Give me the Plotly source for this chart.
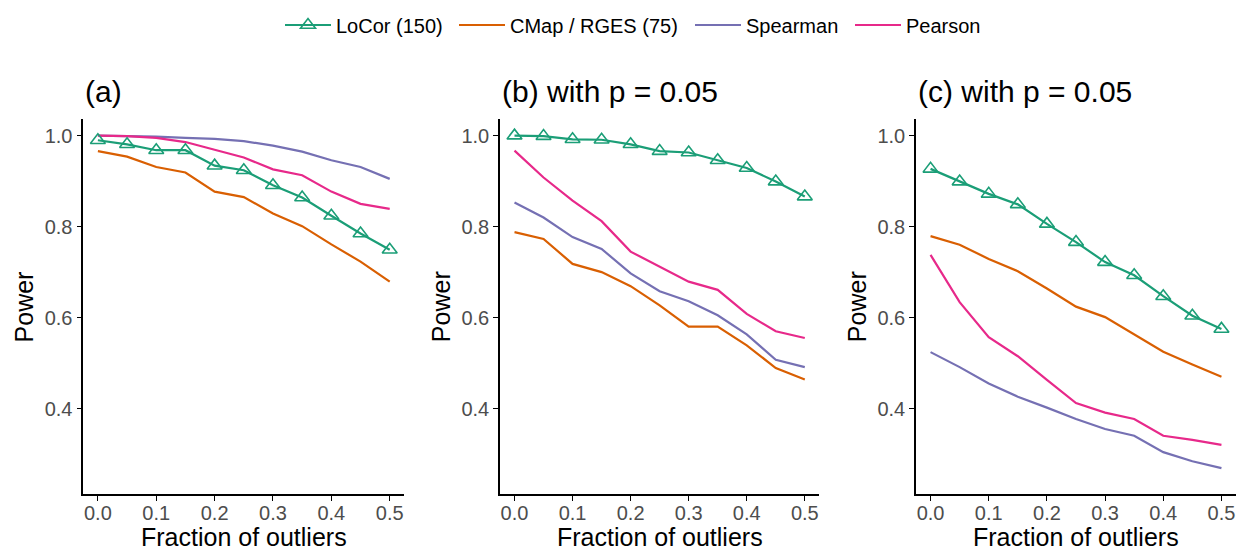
import plotly.graph_objects as go

# ---- data ----
fraction = [0.0, 0.05, 0.10, 0.15, 0.20, 0.25, 0.30, 0.35, 0.40, 0.45, 0.50]
series_names = ["LoCor (150)", "CMap / RGES (75)", "Spearman", "Pearson"]
panel_titles = ["(a)", "(b) with p = 0.05", "(c) with p = 0.05"]
x_title = "Fraction of outliers"
y_title = "Power"

# panel (a)
a_locor = [0.990, 0.981, 0.968, 0.968, 0.934, 0.924, 0.891, 0.864, 0.824, 0.785, 0.749]
a_cmap = [0.966, 0.954, 0.931, 0.919, 0.877, 0.865, 0.829, 0.801, 0.761, 0.723, 0.679]
a_spearman = [1.000, 0.999, 0.998, 0.995, 0.993, 0.988, 0.978, 0.965, 0.946, 0.931, 0.905]
a_pearson = [1.000, 0.999, 0.995, 0.986, 0.969, 0.952, 0.926, 0.913, 0.877, 0.850, 0.839]

# panel (b)
b_locor = [1.000, 0.999, 0.992, 0.991, 0.981, 0.966, 0.963, 0.946, 0.929, 0.899, 0.866]
b_cmap = [0.788, 0.773, 0.718, 0.700, 0.669, 0.627, 0.580, 0.580, 0.539, 0.489, 0.464]
b_spearman = [0.853, 0.820, 0.777, 0.751, 0.697, 0.658, 0.636, 0.605, 0.563, 0.507, 0.491]
b_pearson = [0.967, 0.908, 0.857, 0.812, 0.745, 0.712, 0.679, 0.661, 0.608, 0.570, 0.555]

# panel (c)
c_locor = [0.927, 0.899, 0.872, 0.849, 0.806, 0.766, 0.722, 0.693, 0.647, 0.604, 0.575]
c_cmap = [0.779, 0.760, 0.729, 0.702, 0.664, 0.624, 0.601, 0.563, 0.525, 0.497, 0.470]
c_spearman = [0.524, 0.491, 0.455, 0.426, 0.402, 0.377, 0.355, 0.340, 0.304, 0.284, 0.269]
c_pearson = [0.738, 0.634, 0.557, 0.515, 0.463, 0.412, 0.391, 0.377, 0.340, 0.331, 0.320]

x_ticks = [0.0, 0.1, 0.2, 0.3, 0.4, 0.5]
x_tick_labels = ["0.0", "0.1", "0.2", "0.3", "0.4", "0.5"]
y_ticks = [0.4, 0.6, 0.8, 1.0]
y_tick_labels = ["0.4", "0.6", "0.8", "1.0"]

panels = [
    [a_locor, a_cmap, a_spearman, a_pearson],
    [b_locor, b_cmap, b_spearman, b_pearson],
    [c_locor, c_cmap, c_spearman, c_pearson],
]

colors = ["#1B9E77", "#D95F02", "#7570B3", "#E7298A"]
FONT = "Liberation Sans, Arial, sans-serif"

W, H = 1239, 550
x_domains = [[83.3 / W, 404.3 / W], [500.0 / W, 819.3 / W], [916.0 / W, 1236.0 / W]]
y_domain = [56.0 / H, 430.7 / H]
# left pixel of each legend entry's symbol in the reference
legend_symbol_px = [287, 461, 697, 857]
legend_ids = ["legend", "legend2", "legend3", "legend4"]

fig = go.Figure()

for p, series in enumerate(panels):
    xa = "x" if p == 0 else f"x{p+1}"
    ya = "y" if p == 0 else f"y{p+1}"
    for i in [1, 2, 3, 0]:
        is_locor = i == 0
        fig.add_trace(go.Scatter(
            x=fraction, y=series[i], name=series_names[i],
            mode="lines+markers" if is_locor else "lines",
            line=dict(color=colors[i], width=2.2),
            marker=dict(symbol="triangle-up-open", size=13, color=colors[i],
                        line=dict(width=1.6, color=colors[i])) if is_locor else None,
            xaxis=xa, yaxis=ya,
            showlegend=(p == 0),
            legend=legend_ids[i],
        ))

layout = dict(
    width=W, height=H,
    margin=dict(l=0, r=0, t=0, b=0),
    paper_bgcolor="white", plot_bgcolor="white",
    font=dict(family=FONT, color="black"),
    annotations=[],
)

for i, lid in enumerate(legend_ids):
    layout[lid] = dict(
        orientation="h", x=(legend_symbol_px[i] - 7) / W, xanchor="left",
        y=1 - 25 / H, yanchor="middle",
        font=dict(size=20, family=FONT, color="black"),
        bgcolor="rgba(0,0,0,0)", borderwidth=0, itemwidth=46,
    )

for p in range(3):
    xk = "xaxis" if p == 0 else f"xaxis{p+1}"
    yk = "yaxis" if p == 0 else f"yaxis{p+1}"
    ya = "y" if p == 0 else f"y{p+1}"
    xa = "x" if p == 0 else f"x{p+1}"
    layout[xk] = dict(
        domain=x_domains[p], anchor=ya, range=[-0.025, 0.525],
        tickvals=x_ticks, ticktext=x_tick_labels,
        showline=True, linecolor="black", linewidth=1.6,
        ticks="outside", ticklen=5, tickwidth=1.3, tickcolor="black",
        tickfont=dict(size=20, color="#4D4D4D", family=FONT),
        ticklabelstandoff=-5,
        showgrid=False, zeroline=False, automargin=False,
    )
    layout[yk] = dict(
        domain=y_domain, anchor=xa, range=[0.212, 1.036],
        tickvals=y_ticks, ticktext=y_tick_labels,
        showline=True, linecolor="black", linewidth=1.6,
        ticks="outside", ticklen=5, tickwidth=1.3, tickcolor="black",
        tickfont=dict(size=20, color="#4D4D4D", family=FONT),
        showgrid=False, zeroline=False, automargin=False,
    )
    # panel title
    layout["annotations"].append(dict(
        text=panel_titles[p], xref="paper", yref="paper",
        x=x_domains[p][0], y=1 - 92 / H, xanchor="left", yanchor="middle",
        showarrow=False, font=dict(size=30, color="black", family=FONT),
    ))
    # x axis title
    layout["annotations"].append(dict(
        text=x_title, xref="paper", yref="paper",
        x=(x_domains[p][0] + x_domains[p][1]) / 2, y=1 - 537 / H,
        xanchor="center", yanchor="middle",
        showarrow=False, font=dict(size=25, color="black", family=FONT),
    ))
    # y axis title
    layout["annotations"].append(dict(
        text=y_title, xref="paper", yref="paper",
        x=x_domains[p][0] - 59.5 / W, y=(y_domain[0] + y_domain[1]) / 2,
        xanchor="center", yanchor="middle", textangle=-90,
        showarrow=False, font=dict(size=25, color="black", family=FONT),
    ))

fig.update_layout(**layout)
fig.write_html("out.html")
